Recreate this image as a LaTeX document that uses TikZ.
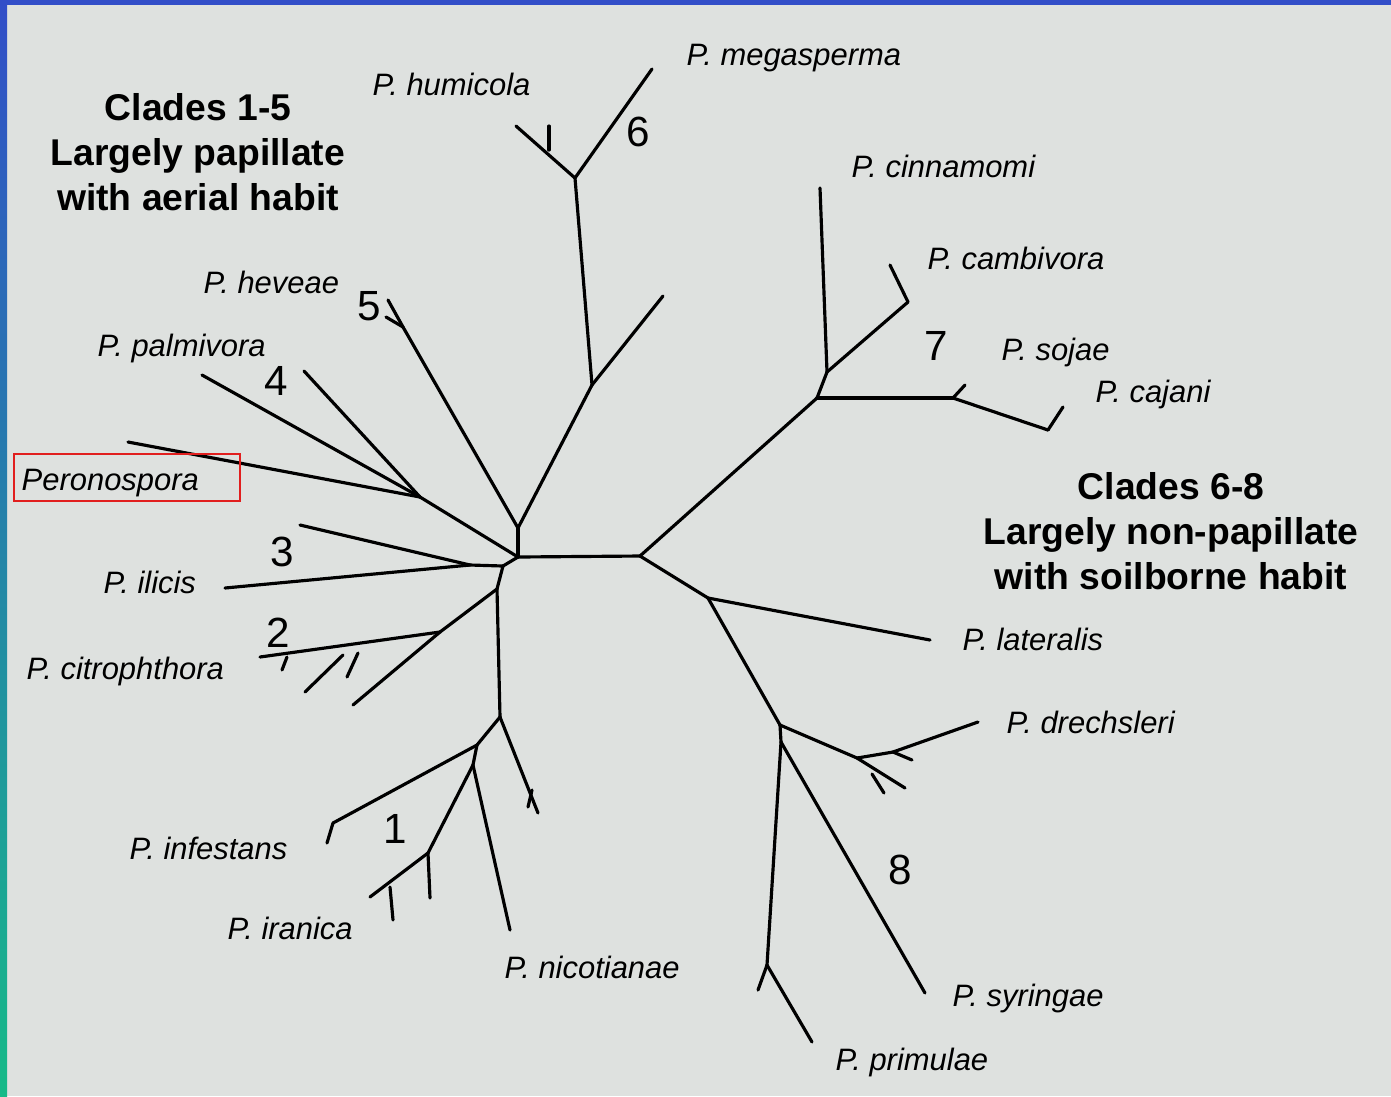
\documentclass[tikz,border=0pt]{standalone}
\usepackage{fontspec}
\setmainfont{Liberation Sans}
\definecolor{paper}{RGB}{222,225,223}
\definecolor{slideblue}{RGB}{50,78,200}
\definecolor{slidegreen}{RGB}{22,186,136}
\definecolor{boxred}{RGB}{225,30,30}

\begin{document}
\begin{tikzpicture}[x=0.01cm, y=-0.01cm,
  branch/.style={line width=0.9pt, line cap=round, line join=round},
  taxon/.style={font=\fontsize{8.8}{10}\selectfont\itshape, inner sep=0pt, anchor=base west},
  cladeno/.style={font=\fontsize{12}{14}\selectfont, inner sep=0pt},
  heading/.style={font=\fontsize{10.6}{12.8}\selectfont\bfseries, align=center, inner sep=0pt}]
  %% Slide background
  \fill[paper] (0,0) rectangle (1391,1096);
  \fill[slideblue] (0,0) rectangle (1391,5);
  \shade[top color=slideblue, bottom color=slidegreen] (0,0) rectangle (7,1096);
  \useasboundingbox (0,0) rectangle (1391,1096);

  %% Tree nodes: name/x/y
  \foreach \n/\x/\y in {
    hubL/518/557, hubR/640/556, n56/518/528,
    n5/403/327, t5a/388/300, t5b/386/317,
    n6a/592/385, t6a/663/296, n6/575/178, t6hum/516/126, k6/549/150, k6t/549/126, t6meg/652/69,
    n4/420/497, t4pal/202/375, t4b/304/371, tPer/128/442,
    n3link/503/566, n3/470/565, t3a/300/525, t3ili/225/588,
    n12/497/589,
    n2/440/632, t2a/353/705, k2a/358/653, k2at/347/677, n2c/343/655, t2b/305/692,
    k2b/287/657, k2bt/282/670, t2cit/260/657,
    n1/500/717, t1r/538/813, k1/532/790, k1t/528/807,
    n1a/477/745, n1inf/333/823, t1inf/327/843,
    n1b/473/765, t1nic/510/930, n1c/428/853, t1c/430/898, k1c/390/887, k1ct/393/920, t1ira/370/897,
    n7/817/398, n7a/827/372, t7cin/820/188, n7cam/908/302, t7cam/890/265,
    n7b/953/398, k7/965/385, n7caj/1048/430, t7caj/1063/407,
    n8/708/598, t8lat/930/640, n8a/780/725, n8b/781/742,
    n8c/857/758, n8d/893/752, t8dre/978/722, k8d/912/760,
    t8e/905/788, k8e/872/774, k8et/884/793,
    t8syr/925/993, n8p/767/965, t8pa/758/990, t8pri/812/1042}{
    \coordinate (\n) at (\x,\y);
  }

  %% Branches
  \foreach \a/\b in {
    hubL/hubR, hubL/n56,
    n56/n5, n5/t5a, n5/t5b,
    n56/n6a, n6a/t6a, n6a/n6, n6/t6hum, k6/k6t, n6/t6meg,
    hubL/n4, n4/t4pal, n4/t4b, n4/tPer,
    hubL/n3link, n3link/n3, n3/t3a, n3/t3ili,
    n3link/n12, n12/n2, n2/t2a, n2/t2cit, k2a/k2at, n2c/t2b, k2b/k2bt,
    n12/n1, n1/t1r, k1/k1t,
    n1/n1a, n1a/n1inf, n1inf/t1inf,
    n1a/n1b, n1b/t1nic, n1b/n1c, n1c/t1c, n1c/t1ira, k1c/k1ct,
    hubR/n7, n7/n7a, n7a/t7cin, n7a/n7cam, n7cam/t7cam,
    n7/n7b, n7b/k7, n7b/n7caj, n7caj/t7caj,
    hubR/n8, n8/t8lat, n8/n8a, n8a/n8b,
    n8a/n8c, n8c/n8d, n8d/t8dre, n8d/k8d, n8c/t8e, k8e/k8et,
    n8b/t8syr, n8b/n8p, n8p/t8pa, n8p/t8pri}{
    \draw[branch] (\a) -- (\b);
  }

  %% Species labels
  \node[taxon] (megasperma) at (686,65) {P. megasperma};
  \node[taxon] (humicola) at (372,95) {P. humicola};
  \node[taxon] (cinnamomi) at (851,177) {P. cinnamomi};
  \node[taxon] (cambivora) at (927,269) {P. cambivora};
  \node[taxon] (sojae) at (1001,360) {P. sojae};
  \node[taxon] (cajani) at (1095,402) {P. cajani};
  \node[taxon] (heveae) at (203,293) {P. heveae};
  \node[taxon] (palmivora) at (97,356) {P. palmivora};
  \node[taxon] (peronospora) at (21,490) {Peronospora};
  \node[taxon] (ilicis) at (103,593) {P. ilicis};
  \node[taxon] (citrophthora) at (26,679) {P. citrophthora};
  \node[taxon] (infestans) at (129,859) {P. infestans};
  \node[taxon] (iranica) at (227,939) {P. iranica};
  \node[taxon] (nicotianae) at (504,978) {P. nicotianae};
  \node[taxon] (lateralis) at (962,650) {P. lateralis};
  \node[taxon] (drechsleri) at (1006,733) {P. drechsleri};
  \node[taxon] (syringae) at (952,1006) {P. syringae};
  \node[taxon] (primulae) at (835,1070) {P. primulae};
  \draw[boxred, line width=0.75pt] (14,454) rectangle (240,501);

  %% Clade numbers
  \foreach \k/\x/\y in {1/395/829, 2/278/633, 3/282/552, 4/276/381,
                        5/369/306, 6/638/132, 7/936/346, 8/900/870}{
    \node[cladeno] (clade\k) at (\x,\y) {\k};
  }

  %% Headings
  \node[heading] (papillate) at (198,152) {Clades 1-5\\Largely papillate\\with aerial habit};
  \node[heading] (nonpapillate) at (1171,531) {Clades 6-8\\Largely non-papillate\\with soilborne habit};
\end{tikzpicture}
\end{document}
